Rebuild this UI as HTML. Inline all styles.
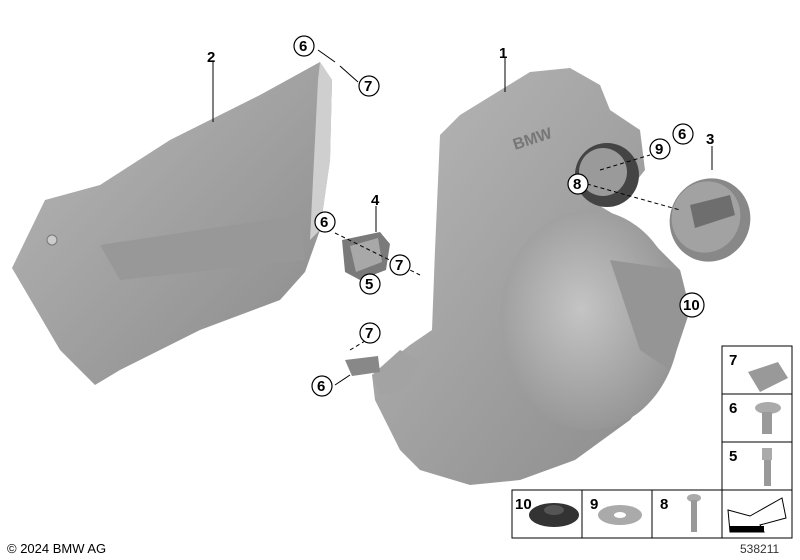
<!DOCTYPE html>
<html><head><style>
body{margin:0;background:#fff;}
svg{display:block;font-family:"Liberation Sans",sans-serif;}
.n{font-weight:bold;font-size:15px;fill:#000;}
.c{fill:#fff;stroke:#000;stroke-width:1.2;}
.l{stroke:#000;stroke-width:1;fill:none;}
.d{stroke:#000;stroke-width:1;stroke-dasharray:4,3;fill:none;}
</style></head><body>
<svg width="800" height="560" viewBox="0 0 800 560">
<defs>
<linearGradient id="g1" x1="0" y1="0" x2="1" y2="1"><stop offset="0" stop-color="#b8b8b8"/><stop offset="1" stop-color="#8a8a8a"/></linearGradient>
<radialGradient id="g2" cx="0.45" cy="0.45" r="0.6"><stop offset="0" stop-color="#c4c4c4"/><stop offset="1" stop-color="#939393"/></radialGradient>
</defs>
<path d="M12,268 L45,200 L100,185 L170,140 L260,95 L320,62 L332,80 L330,160 L320,230 L305,272 L280,300 L200,330 L120,370 L95,385 L60,350 Z" fill="url(#g1)"/>
<path d="M100,245 L300,215 L305,260 L120,280 Z" fill="#989898"/>
<path d="M320,62 L332,80 L330,160 L320,230 L310,240 L318,80 Z" fill="#cfcfcf"/>
<circle cx="52" cy="240" r="5" fill="#ccc" stroke="#777"/>
<path d="M440,135 L460,115 L530,72 L570,68 L600,85 L610,110 L640,130 L645,170 L625,195 L590,200 L640,230 L680,270 L690,310 L670,370 L630,420 L575,460 L520,480 L470,485 L420,470 L400,450 L375,400 L372,375 L410,345 L432,330 L435,250 Z" fill="url(#g1)"/>
<ellipse cx="590" cy="320" rx="90" ry="110" fill="url(#g2)"/>
<path d="M610,260 L680,270 L690,310 L670,370 L640,350 Z" fill="#959595"/>
<circle cx="607" cy="175" r="32" fill="#444"/>
<circle cx="603" cy="172" r="24" fill="#9a9a9a"/>
<text x="515" y="150" font-size="16" font-weight="bold" fill="#777" transform="rotate(-18 515 150)">BMW</text>
<path d="M372,375 L400,350 L420,360 L405,390 L380,395 Z" fill="#a3a3a3"/>
<path d="M345,360 L378,356 L380,372 L352,376 Z" fill="#888"/>
<ellipse cx="710" cy="220" rx="40" ry="42" fill="#888" transform="rotate(25 710 220)"/>
<ellipse cx="706" cy="217" rx="34" ry="36" fill="#a2a2a2" transform="rotate(25 706 217)"/>
<path d="M690,205 L730,195 L735,215 L695,228 Z" fill="#6e6e6e"/>
<path d="M342,240 L380,232 L390,244 L386,270 L360,280 L345,272 Z" fill="#7a7a7a"/>
<path d="M350,246 L378,238 L382,262 L356,272 Z" fill="#a8a8a8"/>
<line class="l" x1="213" y1="62" x2="213" y2="122"/>
<line class="l" x1="505" y1="58" x2="505" y2="92"/>
<line class="l" x1="712" y1="146" x2="712" y2="170"/>
<line class="l" x1="376" y1="206" x2="376" y2="232"/>
<line class="l" x1="318" y1="50" x2="335" y2="62"/>
<line class="l" x1="340" y1="66" x2="358" y2="82"/>
<line class="d" x1="587" y1="184" x2="680" y2="210"/>
<line class="d" x1="600" y1="170" x2="650" y2="155"/>
<line class="d" x1="335" y1="233" x2="420" y2="275"/>
<line class="d" x1="350" y1="350" x2="375" y2="335"/>
<line class="l" x1="335" y1="385" x2="350" y2="375"/>
<text class="n" x="207" y="62">2</text>
<text class="n" x="499" y="58">1</text>
<text class="n" x="706" y="144">3</text>
<text class="n" x="371" y="205">4</text>
<circle class="c" cx="304" cy="46" r="10"/><text class="n" x="299" y="51">6</text>
<circle class="c" cx="369" cy="86" r="10"/><text class="n" x="364" y="91">7</text>
<circle class="c" cx="683" cy="134" r="10"/><text class="n" x="678" y="139">6</text>
<circle class="c" cx="660" cy="149" r="10"/><text class="n" x="655" y="154">9</text>
<circle class="c" cx="578" cy="184" r="10"/><text class="n" x="573" y="189">8</text>
<circle class="c" cx="325" cy="222" r="10"/><text class="n" x="320" y="227">6</text>
<circle class="c" cx="400" cy="265" r="10"/><text class="n" x="395" y="270">7</text>
<circle class="c" cx="370" cy="284" r="10"/><text class="n" x="365" y="289">5</text>
<circle class="c" cx="370" cy="333" r="10"/><text class="n" x="365" y="338">7</text>
<circle class="c" cx="322" cy="386" r="10"/><text class="n" x="317" y="391">6</text>
<circle class="c" cx="692" cy="305" r="12"/><text class="n" x="683" y="310" font-size="13">10</text>
<g fill="none" stroke="#000" stroke-width="1">
<rect x="722" y="346" width="70" height="192"/>
<line x1="722" y1="394" x2="792" y2="394"/>
<line x1="722" y1="442" x2="792" y2="442"/>
<rect x="512" y="490" width="280" height="48"/>
<line x1="582" y1="490" x2="582" y2="538"/>
<line x1="652" y1="490" x2="652" y2="538"/>
<line x1="722" y1="490" x2="722" y2="538"/>
</g>
<text class="n" x="729" y="365">7</text>
<text class="n" x="729" y="413">6</text>
<text class="n" x="729" y="461">5</text>
<text class="n" x="515" y="509">10</text>
<text class="n" x="590" y="509">9</text>
<text class="n" x="660" y="509">8</text>
<path d="M748,372 L778,362 L788,378 L760,392 Z" fill="#999"/>
<ellipse cx="768" cy="408" rx="13" ry="6" fill="#aaa"/><rect x="762" y="412" width="10" height="22" fill="#999"/>
<rect x="762" y="448" width="10" height="12" fill="#aaa"/><rect x="764" y="460" width="7" height="26" fill="#999"/>
<ellipse cx="554" cy="515" rx="25" ry="12" fill="#333"/><ellipse cx="554" cy="510" rx="10" ry="5" fill="#555"/>
<ellipse cx="620" cy="515" rx="22" ry="10" fill="#aaa"/><ellipse cx="620" cy="515" rx="6" ry="3" fill="#fff"/>
<ellipse cx="694" cy="498" rx="7" ry="4" fill="#aaa"/><rect x="691" y="500" width="6" height="32" fill="#999"/>
<path d="M728,510 L750,516 L782,498 L786,518 L760,525 L764,532 L730,532 Z" fill="#fff" stroke="#000"/>
<rect x="730" y="526" width="34" height="6" fill="#000"/>
<text x="7" y="553" font-size="13" fill="#000">© 2024 BMW AG</text>
<text x="740" y="553" font-size="12" fill="#333">538211</text>
</svg>
</body></html>
